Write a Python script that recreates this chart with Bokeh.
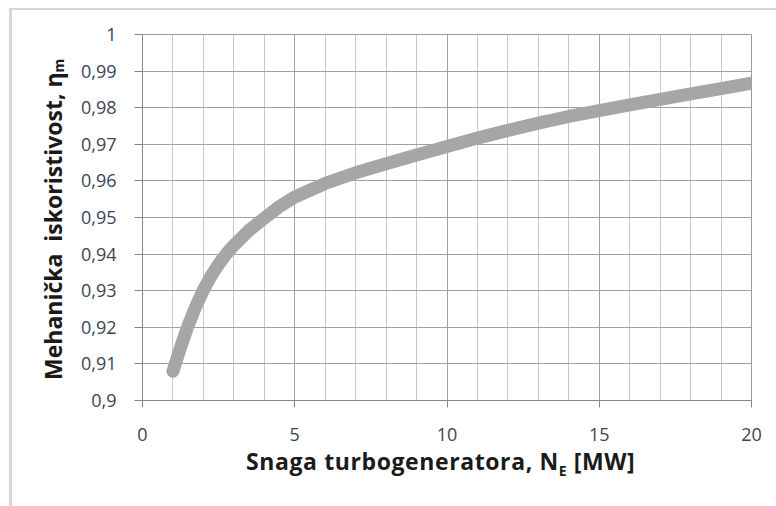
from bokeh.plotting import figure
from bokeh.models import FixedTicker, Range1d, Div
from bokeh.layouts import row, column
from bokeh.embed import file_html
from bokeh.resources import INLINE

# ---- data ----
power_mw = [1, 1.25, 1.5, 1.75, 2, 2.25, 2.5, 2.75, 3, 3.5, 4, 4.5, 5, 6, 7, 8, 9, 10,
            11, 12, 13, 14, 15, 16, 17, 18, 19, 20]
efficiency = [0.908, 0.9145, 0.9205, 0.9257, 0.9302, 0.9340, 0.9372, 0.9400, 0.9424,
              0.9465, 0.9498, 0.9530, 0.9556,
              0.9593, 0.9622, 0.9647, 0.9671, 0.9694,
              0.9717, 0.9738, 0.9758, 0.9776, 0.9792, 0.9808, 0.9823, 0.9838, 0.9852, 0.9867]

x_ticks = [0, 5, 10, 15, 20]
x_tick_labels = ["0", "5", "10", "15", "20"]
x_minor_ticks = [1, 2, 3, 4, 6, 7, 8, 9, 11, 12, 13, 14, 16, 17, 18, 19]
y_ticks = [0.90, 0.91, 0.92, 0.93, 0.94, 0.95, 0.96, 0.97, 0.98, 0.99, 1.00]
y_tick_labels = ["0,9", "0,91", "0,92", "0,93", "0,94", "0,95",
                 "0,96", "0,97", "0,98", "0,99", "1"]

x_label_main = "Snaga turbogeneratora, N"
x_label_sub = "E"
x_label_tail = " [MW]"
y_label_main = "Mehanička  iskoristivost, η"
y_label_sub = "m"

FONT = "Open Sans"
TICK_COLOR = "#3a4456"

p = figure(width=704, height=446, output_backend="svg", toolbar_location=None,
           x_range=Range1d(0, 20), y_range=Range1d(0.9, 1.0),
           min_border_left=71, min_border_right=24,
           min_border_top=24, min_border_bottom=56)

p.background_fill_color = "white"
p.border_fill_color = "white"
p.outline_line_color = "#9a9a9a"

# x axis
p.xaxis.ticker = FixedTicker(ticks=x_ticks, minor_ticks=x_minor_ticks)
p.xaxis.major_label_overrides = {t: l for t, l in zip(x_ticks, x_tick_labels)}
p.xaxis.axis_line_color = "#868686"
p.xaxis.major_tick_line_color = "#868686"
p.xaxis.major_tick_out = 7
p.xaxis.major_tick_in = 0
p.xaxis.minor_tick_line_color = None
p.xaxis.major_label_standoff = 20
p.xaxis.major_label_text_font = FONT
p.xaxis.major_label_text_font_size = "18px"
p.xaxis.major_label_text_color = TICK_COLOR

# y axis
p.yaxis.ticker = FixedTicker(ticks=y_ticks)
p.yaxis.major_label_overrides = {t: l for t, l in zip(y_ticks, y_tick_labels)}
p.yaxis.axis_line_color = "#868686"
p.yaxis.major_tick_line_color = "#868686"
p.yaxis.major_tick_out = 8
p.yaxis.major_tick_in = 0
p.yaxis.minor_tick_line_color = None
p.yaxis.major_label_standoff = 18
p.yaxis.major_label_text_font = FONT
p.yaxis.major_label_text_font_size = "18px"
p.yaxis.major_label_text_color = TICK_COLOR

# grids
p.xgrid.grid_line_color = "#a0a0a0"
p.xgrid.minor_grid_line_color = "#c8c8c8"
p.ygrid.grid_line_color = "#a0a0a0"

# curve
p.line(power_mw, efficiency, line_width=13, line_color="#a6a6a6",
       line_cap="round", line_join="round")

# axis titles (HTML text, so that subscripts are real subscripts)
title_css = (f"font-family:'{FONT}';font-size:23px;font-weight:bold;"
             "color:#1a1a1a;white-space:pre;")
sub_css = "font-size:14px;"

y_html = (f'<div style="{title_css}writing-mode:vertical-rl;transform:rotate(180deg);'
          'height:365px;margin-left:23px;line-height:26px;text-align:start;">'
          f'{y_label_main}<sub style="{sub_css}">{y_label_sub}</sub></div>')
x_html = (f'<div style="{title_css}padding-left:170px;line-height:11px;'
          'letter-spacing:0.6px;position:relative;top:-5px;">'
          f'{x_label_main}<sub style="{sub_css}">{x_label_sub}</sub>{x_label_tail}</div>')

ydiv = Div(text=y_html, width=49, height=496)
xdiv = Div(text=x_html, width=704, height=50)

layout = row(ydiv, column(p, xdiv, spacing=0), spacing=0)
layout.styles = {"margin-left": "9px", "margin-top": "8px",
                 "border-left": "3px solid #d6d6d6", "border-top": "2px solid #d6d6d6",
                 "background": "white"}

open("out.html", "w").write(file_html(layout, INLINE))
